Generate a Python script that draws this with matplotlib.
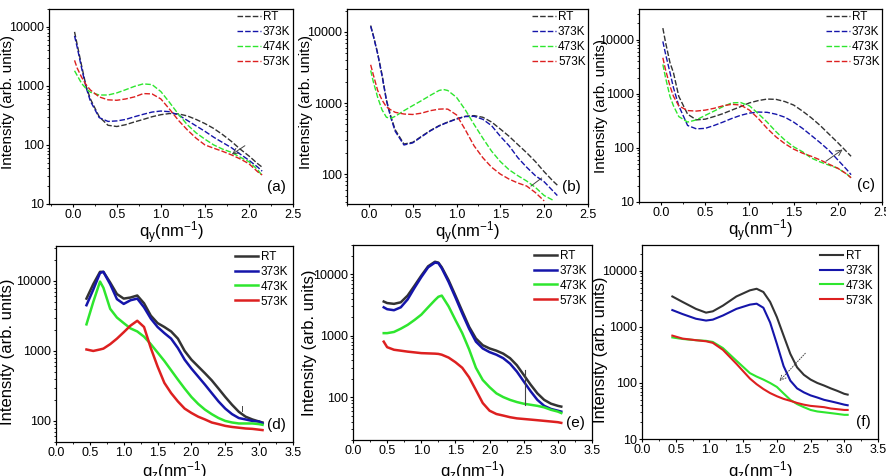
import matplotlib
matplotlib.use("Agg")
import matplotlib.pyplot as plt
from matplotlib.ticker import MultipleLocator, LogLocator, NullFormatter, FixedLocator
import numpy as np

plt.rcParams['font.family'] = ['Liberation Sans', 'DejaVu Sans']
plt.rcParams['mathtext.fontset'] = 'custom'
plt.rcParams['mathtext.rm'] = 'Liberation Sans'
plt.rcParams['mathtext.it'] = 'Liberation Sans'

labels = ["RT", "373K", "473K", "573K"]
labels_a = ["RT", "373K", "474K", "573K"]
colors = ["#333333", "#1515aa", "#2ee62e", "#dd2020"]

# ---- top row (q_y) ----
qa = [0.02, 0.05, 0.1, 0.15, 0.2, 0.3, 0.4, 0.5, 0.6, 0.7, 0.8, 0.9, 1.0,
      1.1, 1.2, 1.3, 1.4, 1.5, 1.6, 1.7, 1.8, 1.9, 2.0, 2.1, 2.15]
a_rt = [8200, 5000, 2200, 1000, 600, 300, 215, 205, 220, 245, 270, 300, 325,
        340, 335, 310, 270, 230, 190, 150, 115, 85, 65, 48, 42]
a_373 = [7000, 4500, 2000, 950, 550, 290, 250, 255, 270, 300, 330, 360, 375,
         365, 320, 260, 210, 170, 135, 110, 90, 70, 55, 42, 36]
a_473 = [1800, 1500, 1100, 900, 780, 700, 700, 760, 860, 980, 1080, 1050, 800,
         520, 330, 220, 160, 125, 100, 85, 75, 62, 52, 38, 30]
a_573 = [2700, 2000, 1400, 1050, 850, 650, 580, 570, 600, 650, 740, 730, 600,
         400, 260, 180, 130, 100, 88, 78, 68, 58, 48, 35, 31]

qb = [0.02, 0.05, 0.1, 0.15, 0.2, 0.25, 0.3, 0.4, 0.5, 0.6, 0.7, 0.8, 0.85, 0.9,
      1.0, 1.1, 1.2, 1.3, 1.4, 1.5, 1.6, 1.7, 1.8, 1.9, 2.0, 2.1, 2.15]
b_rt = [12300, 9000, 5000, 2500, 1100, 650, 420, 265, 280, 340, 410, 480, 510, 540,
        600, 650, 665, 630, 540, 430, 340, 260, 200, 150, 108, 80, 70]
b_373 = [12000, 8800, 4900, 2400, 1080, 620, 400, 257, 275, 335, 405, 475, 505, 535,
         595, 645, 650, 590, 480, 340, 250, 170, 125, 95, 78, 58, 50]
b_473 = [2870, 2000, 1200, 800, 630, 610, 650, 780, 920, 1080, 1280, 1500, 1550, 1500,
         1200, 800, 500, 320, 210, 150, 115, 95, 80, 65, 50, 43, np.nan]
b_573 = [3450, 2500, 1500, 1100, 880, 800, 740, 700, 690, 720, 780, 820, 825, 820,
         680, 420, 250, 170, 125, 100, 85, 75, 68, 55, 42, np.nan, np.nan]

qc = [0.02, 0.05, 0.1, 0.14, 0.2, 0.3, 0.4, 0.5, 0.6, 0.7, 0.8, 0.9, 1.0,
      1.1, 1.2, 1.3, 1.4, 1.5, 1.6, 1.7, 1.8, 1.9, 2.0, 2.1, 2.15]
c_rt = [16400, 9000, 3800, 2450, 900, 420, 330, 340, 380, 430, 500, 580, 680,
        750, 800, 790, 720, 620, 480, 360, 260, 180, 125, 85, 70]
c_373 = [9300, 5500, 2500, 1300, 600, 260, 225, 230, 260, 300, 350, 400, 440,
         460, 455, 420, 370, 300, 230, 170, 125, 90, 60, 40, 32]
c_473 = [3490, 2000, 900, 600, 380, 300, 330, 400, 480, 580, 680, 690, 600,
         430, 300, 200, 140, 105, 85, 65, 55, 48, 42, 33, 28]
c_573 = [4640, 2800, 1400, 900, 600, 490, 480, 500, 540, 600, 640, 620, 500,
         350, 230, 160, 120, 95, 80, 70, 60, 50, 42, 33, 28]

# ---- bottom row (q_z) ----
qd = [0.45, 0.55, 0.65, 0.7, 0.8, 0.9, 1.0, 1.1, 1.2, 1.3, 1.4, 1.5, 1.6, 1.7,
      1.8, 1.9, 2.0, 2.1, 2.2, 2.3, 2.4, 2.5, 2.6, 2.7, 2.8, 2.9, 3.0, 3.05]
d_rt = [5600, 9000, 13500, 13500, 9500, 6500, 5600, 5800, 6200, 4800, 3200, 2500, 2200, 1900,
        1500, 1000, 750, 600, 480, 380, 290, 220, 170, 135, 115, 105, 98, 95]
d_373 = [4500, 7500, 13000, 13500, 9000, 5500, 4700, 5300, 5600, 4200, 2900, 2200, 1800, 1500,
         1100, 750, 560, 430, 330, 250, 190, 150, 125, 110, 105, 100, 98, 92]
d_473 = [2400, 5000, 9800, 8000, 4000, 3000, 2500, 2100, 1900, 1600, 1250, 950, 720, 530,
         390, 290, 220, 175, 145, 125, 110, 100, 95, 92, 92, 92, 90, 88]
d_573 = [1050, 1000, 1050, 1080, 1250, 1500, 1850, 2300, 2700, 2200, 1100, 600, 350, 250,
         190, 150, 130, 115, 105, 95, 90, 85, 82, 80, 78, 77, 75, 74]

qe = [0.45, 0.5, 0.6, 0.7, 0.8, 0.9, 1.0, 1.1, 1.2, 1.25, 1.3, 1.4, 1.5, 1.6, 1.7,
      1.8, 1.9, 2.0, 2.1, 2.2, 2.3, 2.4, 2.5, 2.6, 2.7, 2.8, 2.9, 3.0, 3.05]
e_rt = [3600, 3400, 3300, 3500, 4500, 6500, 9500, 13500, 16000, 15500, 13000, 8000, 4500, 2500, 1400,
        900, 700, 620, 570, 510, 430, 330, 230, 160, 115, 90, 78, 72, 70]
e_373 = [2900, 2700, 2600, 2900, 3900, 6000, 9000, 13000, 15500, 15200, 12500, 7500, 4200, 2300, 1300,
         800, 620, 540, 490, 430, 350, 260, 180, 125, 90, 72, 64, 60, 58]
e_473 = [1100, 1100, 1150, 1300, 1500, 1800, 2200, 2900, 3800, 4300, 4500, 3000, 1800, 1100, 600,
         300, 190, 145, 115, 100, 90, 83, 78, 75, 72, 68, 62, 58, 55]
e_573 = [800, 650, 590, 570, 550, 535, 520, 515, 510, 505, 490, 440, 370, 300, 210,
         130, 80, 60, 53, 50, 47, 45, 44, 43, 42, 41, 40, 39, 38]

qf = [0.45, 0.6, 0.8, 0.95, 1.05, 1.2, 1.4, 1.6, 1.7, 1.8, 1.9, 2.0, 2.1, 2.2,
      2.3, 2.4, 2.5, 2.6, 2.7, 2.8, 2.9, 3.0, 3.05]
f_rt = [3500, 2800, 2100, 1800, 1900, 2400, 3500, 4500, 4800, 4200, 2800, 1500, 700, 330,
        190, 140, 115, 100, 90, 80, 72, 64, 62]
f_373 = [2000, 1700, 1400, 1300, 1350, 1600, 2100, 2500, 2600, 2200, 1200, 500, 200, 110,
         80, 68, 60, 55, 50, 47, 44, 41, 40]
f_473 = [650, 610, 580, 565, 540, 420, 250, 150, 130, 115, 100, 85, 65, 50,
         42, 37, 33, 31, 30, 29, 28, 27, 27]
f_573 = [700, 620, 580, 555, 520, 390, 220, 120, 95, 78, 66, 58, 52, 48,
         44, 41, 39, 38, 37, 35, 34, 33, 33]

W, H = 887, 476
fig = plt.figure(figsize=(W / 100, H / 100), dpi=100)


def make_ax(l, r, t, b):
    return fig.add_axes([l / W, 1 - b / H, (r - l) / W, (b - t) / H])


def style(ax, xlim, ylim, xlabel, tag, yticks, ylab_pos, xlab_top, ysize):
    ax.set_yscale('log')
    ax.set_xlim(*xlim)
    ax.set_ylim(*ylim)
    ax.xaxis.set_major_locator(MultipleLocator(0.5))
    ax.xaxis.set_minor_locator(MultipleLocator(0.25))
    ax.yaxis.set_major_locator(FixedLocator(yticks))
    ax.yaxis.set_major_formatter(matplotlib.ticker.FuncFormatter(lambda v, p: "%d" % v))
    ax.yaxis.set_minor_locator(LogLocator(base=10, subs=np.arange(2, 10)))
    ax.yaxis.set_minor_formatter(NullFormatter())
    ax.xaxis.set_major_formatter(matplotlib.ticker.FormatStrFormatter('%.1f'))
    ax.tick_params(which='major', direction='out', length=2.5, width=0.8, labelsize=9, pad=1)
    ax.tick_params(which='minor', direction='out', length=1.5, width=0.6)
    for s in ax.spines.values():
        s.set_linewidth(0.9)
    ax.set_xlabel(xlabel, fontsize=12)
    ax.set_ylabel("Intensity (arb. units)", fontsize=ysize)
    # label positions taken in figure pixels
    bb = ax.get_position()
    ax.xaxis.set_label_coords((bb.x0 + bb.x1) / 2, 1 - xlab_top / H, transform=fig.transFigure)
    ax.yaxis.set_label_coords(ylab_pos[0] / W, 1 - ylab_pos[1] / H, transform=fig.transFigure)
    ax.text(0.97, 0.05, tag, transform=ax.transAxes, ha='right', va='bottom', fontsize=11)


def draw(ax, q, series, names, lw, ls, pad):
    for ys, name, c in zip(series, names, colors):
        ax.plot(q, ys, color=c, lw=lw, ls=ls, label=name)
    ax.legend(loc='upper right', frameon=False, fontsize=8.5, handlelength=2.0,
              handletextpad=0.2, labelspacing=0.25, borderaxespad=pad, borderpad=0.1)


qy = "q$_y$(nm$^{-1}$)"
qz = "q$_z$(nm$^{-1}$)"
dash = (0, (4, 1.5))

ax = make_ax(49, 293, 9, 204)
draw(ax, qa, [a_rt, a_373, a_473, a_573], labels_a, 1.0, dash, 0.1)
style(ax, (-0.27, 2.5), (10, 20000), qy, "(a)", [10, 100, 1000, 10000], (15, 102), 220, 11)
ax.annotate("", xy=(1.78, 65), xytext=(1.98, 103),
            arrowprops=dict(arrowstyle='->', color='#444444', lw=0.7))

ax = make_ax(347, 588, 9, 204)
draw(ax, qb, [b_rt, b_373, b_473, b_573], labels, 1.0, dash, 0.1)
style(ax, (-0.25, 2.5), (38, 21000), qy, "(b)", [100, 1000, 10000], (313, 102), 220, 11)
ax.plot([1.85, 1.97], [68, 88], color='#444444', lw=0.7)

ax = make_ax(639, 882, 9, 202)
draw(ax, qc, [c_rt, c_373, c_473, c_573], labels, 1.0, dash, 0.1)
style(ax, (-0.25, 2.5), (10, 37000), qy, "(c)", [10, 100, 1000, 10000], (608, 106), 218, 11)
ax.annotate("", xy=(2.08, 100), xytext=(1.84, 53),
            arrowprops=dict(arrowstyle='->', color='#444444', lw=0.7))

ax = make_ax(56, 293, 246, 442)
draw(ax, qd, [d_rt, d_373, d_473, d_573], labels, 1.8, '-', 0.3)
style(ax, (0, 3.5), (50, 31600), qz, "(d)", [100, 1000, 10000], (15, 352), 459, 12)
ax.plot([2.75, 2.75], [140, 165], color='#444444', lw=0.7)

ax = make_ax(353, 592, 245, 440)
draw(ax, qe, [e_rt, e_373, e_473, e_573], labels, 1.8, '-', 0.3)
style(ax, (0, 3.5), (20, 30000), qz, "(e)", [100, 1000, 10000], (317, 343), 459, 12)
ax.plot([2.52, 2.52], [73, 273], color='#444444', lw=0.8)

ax = make_ax(642, 878, 245, 439)
draw(ax, qf, [f_rt, f_373, f_473, f_573], labels, 1.5, '-', 0.3)
style(ax, (0, 3.5), (10, 29000), qz, "(f)", [10, 100, 1000, 10000], (608, 350), 459, 12)
ax.annotate("", xy=(2.01, 100), xytext=(2.45, 368),
            arrowprops=dict(arrowstyle='->', color='#444444', lw=0.7, linestyle=':'))

fig.savefig("out.png", dpi=100)
